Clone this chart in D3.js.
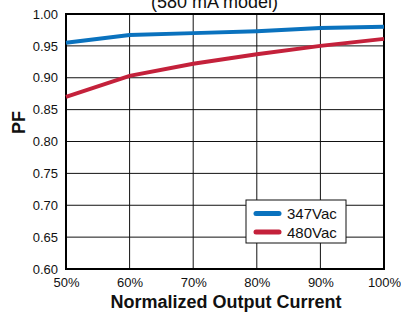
<!DOCTYPE html>
<html><head><meta charset="utf-8">
<script src="https://cdn.jsdelivr.net/npm/d3@7"></script>
<style>body{margin:0;background:#fff}svg{display:block;font-family:"Liberation Sans",Arial,sans-serif}</style>
</head><body><svg id="c" width="401" height="312"></svg>
<script>
const xValues = [50, 60, 70, 80, 90, 100];
const pf347 = [0.955, 0.967, 0.970, 0.973, 0.978, 0.980];
const pf480 = [0.870, 0.903, 0.922, 0.937, 0.950, 0.961];
const yTicks = [0.60,0.65,0.70,0.75,0.80,0.85,0.90,0.95,1.00];
const seriesNames = ["347Vac", "480Vac"];
const colors = ["#0a72be", "#c4213b"];

const svg = d3.select("#c");
const L=66, R=384, T=14, B=269;
const x = d3.scaleLinear().domain([50,100]).range([L,R]);
const y = d3.scaleLinear().domain([0.6,1.0]).range([B,T]);

// grid
svg.append("g").selectAll("line").data(yTicks).join("line")
  .attr("x1",L).attr("x2",R).attr("y1",d=>y(d)).attr("y2",d=>y(d))
  .attr("stroke","#111").attr("stroke-width",1);
svg.append("g").selectAll("line").data(xValues).join("line")
  .attr("y1",T).attr("y2",B).attr("x1",d=>x(d)).attr("x2",d=>x(d))
  .attr("stroke","#111").attr("stroke-width",1);
// frame
svg.append("rect").attr("x",L).attr("y",T).attr("width",R-L).attr("height",B-T)
  .attr("fill","none").attr("stroke","#000").attr("stroke-width",2);

// axes labels
const yAxis = d3.axisLeft(y).tickValues(yTicks).tickFormat(d3.format(".2f")).tickSize(0).tickPadding(8);
const ga = svg.append("g").attr("transform",`translate(${L},0)`).call(yAxis);
ga.select(".domain").remove();
ga.selectAll("text").attr("font-size",13).attr("fill","#111").attr("font-family","Liberation Sans, Arial");
const xAxis = d3.axisBottom(x).tickValues(xValues).tickFormat(d=>d+"%").tickSize(0).tickPadding(9);
const gx = svg.append("g").attr("transform",`translate(0,${B})`).call(xAxis);
gx.select(".domain").remove();
gx.selectAll("text").attr("font-size",13).attr("fill","#111").attr("font-family","Liberation Sans, Arial");

svg.append("text").attr("x",226).attr("y",308).attr("text-anchor","middle")
  .attr("font-size",18).attr("font-weight","bold").attr("fill","#111").text("Normalized Output Current");
svg.append("text").attr("transform","translate(25,122.5) rotate(-90)").attr("text-anchor","middle")
  .attr("font-size",18).attr("font-weight","bold").attr("fill","#111").text("PF");
svg.append("text").attr("x",214.5).attr("y",8).attr("text-anchor","middle")
  .attr("font-size",18).attr("fill","#111").text("(580 mA model)");

// lines
const line = d3.line().x((d,i)=>x(xValues[i])).y(d=>y(d));
[pf347, pf480].forEach((s,i)=>{
  svg.append("path").attr("d",line(s)).attr("fill","none")
    .attr("stroke",colors[i]).attr("stroke-width",4);
});

// legend
const lg = svg.append("g");
lg.append("rect").attr("x",246).attr("y",200).attr("width",100).attr("height",43)
  .attr("fill","#fff").attr("stroke","#111").attr("stroke-width",1);
seriesNames.forEach((n,i)=>{
  const yy = 213.5 + i*18.5;
  lg.append("line").attr("x1",256).attr("x2",279).attr("y1",yy).attr("y2",yy)
    .attr("stroke",colors[i]).attr("stroke-width",5).attr("stroke-linecap","round");
  lg.append("text").attr("x",287).attr("y",yy+5.5).attr("font-size",15).attr("fill","#111").text(n);
});
</script></body></html>
